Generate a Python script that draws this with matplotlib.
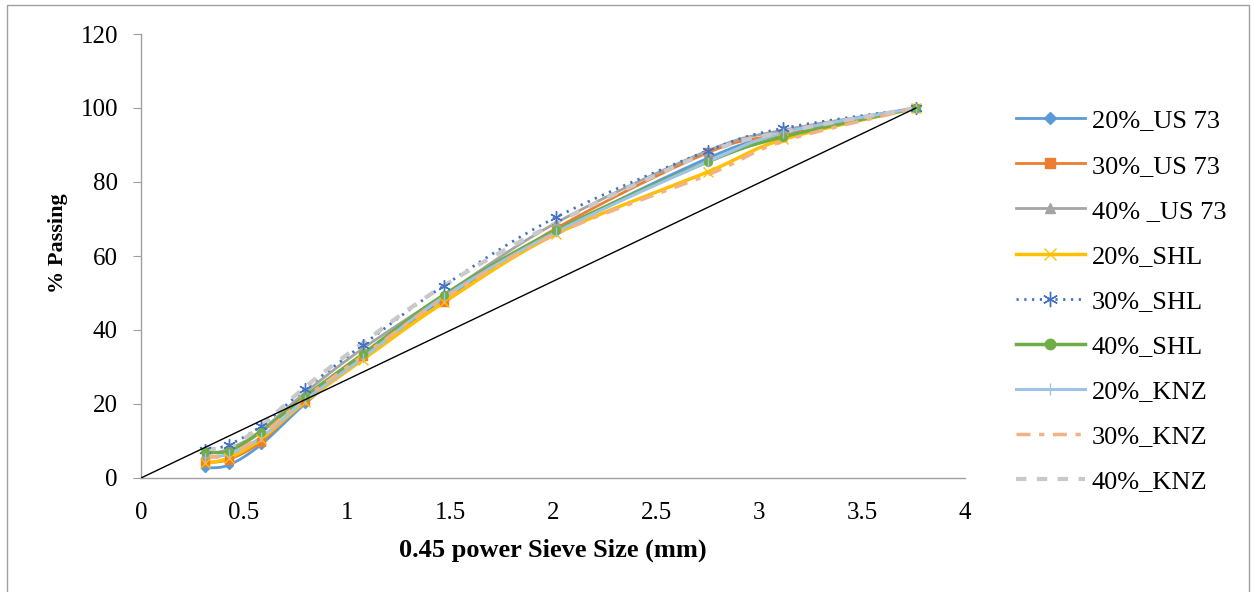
import numpy as np
import matplotlib
matplotlib.use("Agg")
import matplotlib.pyplot as plt
from matplotlib.patches import Rectangle

plt.rcParams["font.family"] = ["Liberation Serif", "DejaVu Serif"]

# 0.45 power of sieve size (0.075 ... 19 mm)
x_pow = [0.312, 0.426, 0.582, 0.795, 1.077, 1.471, 2.016, 2.754, 3.116, 3.762]

labels = ["20%_US 73", "30%_US 73", "40% _US 73",
          "20%_SHL", "30%_SHL", "40%_SHL",
          "20%_KNZ", "30%_KNZ", "40%_KNZ"]

us73_20 = [2.7, 3.5, 9.0, 20.0, 33.0, 48.0, 66.5, 86.5, 93.0, 100]
us73_30 = [4.2, 5.0, 9.8, 20.8, 33.0, 47.5, 67.5, 88.0, 93.0, 100]
us73_40 = [6.5, 7.8, 12.8, 23.0, 35.0, 49.5, 69.0, 88.5, 94.0, 100]
shl_20 = [4.0, 5.4, 10.5, 20.5, 32.0, 47.5, 66.0, 82.8, 91.5, 100]
shl_30 = [7.5, 9.0, 14.0, 24.0, 36.0, 52.0, 70.5, 88.5, 94.5, 100]
shl_40 = [7.1, 7.3, 12.5, 22.0, 33.5, 49.5, 67.0, 85.5, 92.2, 100]
knz_20 = [5.5, 6.5, 11.0, 21.0, 32.5, 49.0, 66.5, 85.5, 93.3, 100]
knz_30 = [5.8, 6.2, 11.5, 21.5, 33.0, 48.5, 66.0, 82.0, 91.0, 100]
knz_40 = [8.0, 8.3, 14.0, 24.5, 36.5, 52.0, 69.0, 88.0, 93.5, 100]

series = [us73_20, us73_30, us73_40, shl_20, shl_30, shl_40, knz_20, knz_30, knz_40]

# maximum density line end points
mdl_x = [0, 3.762]
mdl_y = [0, 100]

styles = [
    dict(color="#5B9BD5", lw=2.0, ls="-", marker="D", ms=4.5),
    dict(color="#ED7D31", lw=2.0, ls="-", marker="s", ms=5.5),
    dict(color="#A5A5A5", lw=2.0, ls="-", marker="^", ms=5.5),
    dict(color="#FFC000", lw=2.5, ls="-", marker="x", ms=7, mew=1.0),
    dict(color="#4472C4", lw=2.0, ls=(0, (0.8, 2.0)), marker=(6, 2, 0), ms=9, mew=1.0),
    dict(color="#70AD47", lw=2.5, ls="-", marker="o", ms=5.5),
    dict(color="#9DC3E6", lw=2.2, ls="-", marker="|", ms=7, mew=1.0),
    dict(color="#F4B183", lw=2.5, ls=(0, (4, 2.5, 1.5, 2.5)), marker=None, ms=0),
    dict(color="#C9C9C9", lw=3.0, ls=(0, (2.5, 2.5)), marker=None, ms=0),
]


def smooth(xs, ys, n=20):
    # Catmull-Rom curve through the points (like Excel's smoothed line)
    p = np.column_stack([xs, ys]).astype(float)
    p = np.vstack([p[0], p, p[-1]])
    out = []
    t = np.linspace(0, 1, n, endpoint=False)[:, None]
    for i in range(1, len(p) - 2):
        p0, p1, p2, p3 = p[i - 1], p[i], p[i + 1], p[i + 2]
        seg = 0.5 * ((2 * p1) + (-p0 + p2) * t + (2 * p0 - 5 * p1 + 4 * p2 - p3) * t ** 2
                     + (-p0 + 3 * p1 - 3 * p2 + p3) * t ** 3)
        out.append(seg)
    out.append(p[-2][None, :])
    out = np.vstack(out)
    return out[:, 0], out[:, 1]


fig = plt.figure(figsize=(12.53, 5.92), dpi=100)
ax = fig.add_axes([141 / 1253, 1 - 478 / 592, (965 - 141) / 1253, (478 - 34) / 592])

handles = []
for ys, lab, st in zip(series, labels, styles):
    sx, sy = smooth(x_pow, ys)
    ax.plot(sx, sy, color=st["color"], lw=st["lw"], ls=st["ls"], zorder=2)
    if st["marker"] is not None:
        ax.plot(x_pow, ys, ls="none", marker=st["marker"], ms=st["ms"],
                color=st["color"], mec=st["color"], mew=st.get("mew", 1.0), zorder=3)
    h, = ax.plot([], [], color=st["color"], lw=st["lw"], ls=st["ls"],
                 marker=st["marker"], ms=st["ms"] + 2 if st["marker"] else 0,
                 mec=st["color"], mew=st.get("mew", 1.0))
    handles.append(h)

ax.plot(mdl_x, mdl_y, color="black", lw=1.0, zorder=4)

ax.set_xlim(0, 4)
ax.set_ylim(0, 120)
ax.set_xticks(np.arange(0, 4.01, 0.5))
ax.set_xticklabels(["0", "0.5", "1", "1.5", "2", "2.5", "3", "3.5", "4"])
ax.set_yticks(np.arange(0, 121, 20))
for s in ["top", "right"]:
    ax.spines[s].set_visible(False)
for s in ["left", "bottom"]:
    ax.spines[s].set_color("#A0A0A0")
    ax.spines[s].set_linewidth(1.0)
ax.tick_params(axis="y", direction="out", length=5.8, color="#A0A0A0", labelsize=18, pad=10.8)
ax.tick_params(axis="x", length=0, labelsize=18, pad=17)

ax.set_xlabel("0.45 power Sieve Size (mm)", fontsize=19, fontweight="bold", labelpad=11)
ax.set_ylabel("% Passing", fontsize=16, fontweight="bold", labelpad=9)
ax.yaxis.label.set_y(0.53)

fig.legend(handles=handles, labels=labels, loc="upper left",
           bbox_to_anchor=(1016 / 1253, 1 - 109 / 592), frameon=False,
           fontsize=19, handlelength=2.6, handletextpad=0.28, labelspacing=0.82,
           borderpad=0, borderaxespad=0)

fig.patches.append(Rectangle((7 / 1253, -0.01), (1249 - 7) / 1253, 1.01 - 5 / 592,
                             transform=fig.transFigure, fill=False,
                             edgecolor="#A0A0A0", lw=1.0))

fig.savefig("out.png", dpi=100)
